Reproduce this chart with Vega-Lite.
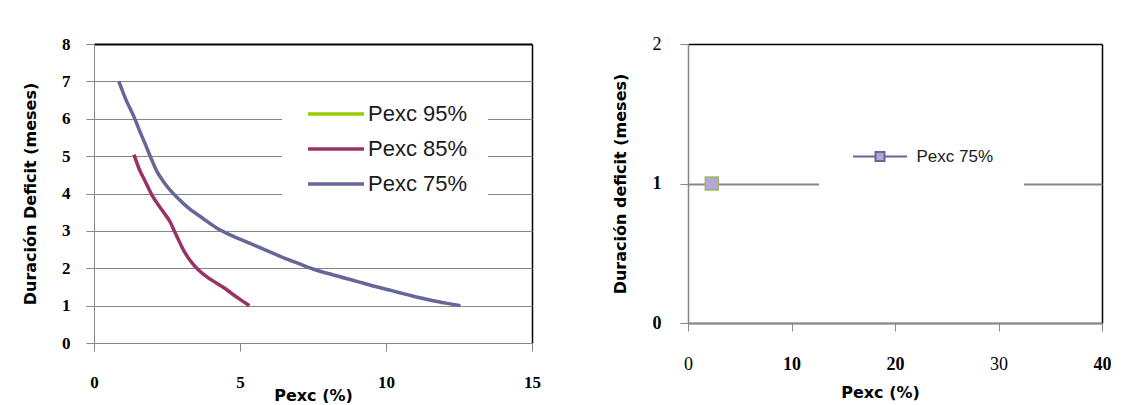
{
  "$schema": "https://vega.github.io/schema/vega-lite/v6.json",
  "background": "white",
  "padding": {"left": 22, "top": 35, "right": 0, "bottom": 0},
  "spacing": 71,
  "resolve": {"scale": {"color": "independent"}, "legend": {"color": "independent"}},
  "config": {
    "view": {"stroke": null},
    "axis": {"labelColor": "black", "titleColor": "black", "labelFlush": false, "labelOverlap": false, "labelAngle": 0}
  },
  "datasets": {
    "curves": [
      {"serie": "Pexc 75%", "pexc": 0.85, "duracion": 7.0},
      {"serie": "Pexc 75%", "pexc": 1.1, "duracion": 6.5},
      {"serie": "Pexc 75%", "pexc": 1.37, "duracion": 6.05},
      {"serie": "Pexc 75%", "pexc": 1.55, "duracion": 5.7},
      {"serie": "Pexc 75%", "pexc": 1.74, "duracion": 5.35},
      {"serie": "Pexc 75%", "pexc": 1.95, "duracion": 4.95},
      {"serie": "Pexc 75%", "pexc": 2.15, "duracion": 4.6},
      {"serie": "Pexc 75%", "pexc": 2.35, "duracion": 4.35},
      {"serie": "Pexc 75%", "pexc": 2.6, "duracion": 4.1},
      {"serie": "Pexc 75%", "pexc": 2.9, "duracion": 3.85},
      {"serie": "Pexc 75%", "pexc": 3.22, "duracion": 3.62},
      {"serie": "Pexc 75%", "pexc": 3.7, "duracion": 3.35},
      {"serie": "Pexc 75%", "pexc": 4.2, "duracion": 3.08},
      {"serie": "Pexc 75%", "pexc": 4.7, "duracion": 2.88},
      {"serie": "Pexc 75%", "pexc": 5.3, "duracion": 2.68},
      {"serie": "Pexc 75%", "pexc": 5.9, "duracion": 2.48},
      {"serie": "Pexc 75%", "pexc": 6.5, "duracion": 2.28},
      {"serie": "Pexc 75%", "pexc": 7.0, "duracion": 2.13},
      {"serie": "Pexc 75%", "pexc": 7.5, "duracion": 1.98},
      {"serie": "Pexc 75%", "pexc": 8.2, "duracion": 1.82},
      {"serie": "Pexc 75%", "pexc": 9.0, "duracion": 1.65},
      {"serie": "Pexc 75%", "pexc": 9.6, "duracion": 1.52},
      {"serie": "Pexc 75%", "pexc": 10.2, "duracion": 1.4},
      {"serie": "Pexc 75%", "pexc": 10.8, "duracion": 1.28},
      {"serie": "Pexc 75%", "pexc": 11.5, "duracion": 1.15},
      {"serie": "Pexc 75%", "pexc": 12.1, "duracion": 1.06},
      {"serie": "Pexc 75%", "pexc": 12.55, "duracion": 1.0},
      {"serie": "Pexc 85%", "pexc": 1.37, "duracion": 5.04},
      {"serie": "Pexc 85%", "pexc": 1.55, "duracion": 4.65},
      {"serie": "Pexc 85%", "pexc": 1.74, "duracion": 4.35},
      {"serie": "Pexc 85%", "pexc": 1.99, "duracion": 3.95},
      {"serie": "Pexc 85%", "pexc": 2.2, "duracion": 3.7},
      {"serie": "Pexc 85%", "pexc": 2.4, "duracion": 3.48},
      {"serie": "Pexc 85%", "pexc": 2.6, "duracion": 3.25},
      {"serie": "Pexc 85%", "pexc": 2.75, "duracion": 3.0},
      {"serie": "Pexc 85%", "pexc": 2.9, "duracion": 2.75},
      {"serie": "Pexc 85%", "pexc": 3.09, "duracion": 2.45},
      {"serie": "Pexc 85%", "pexc": 3.3, "duracion": 2.2},
      {"serie": "Pexc 85%", "pexc": 3.58, "duracion": 1.95},
      {"serie": "Pexc 85%", "pexc": 3.9, "duracion": 1.75},
      {"serie": "Pexc 85%", "pexc": 4.2, "duracion": 1.6},
      {"serie": "Pexc 85%", "pexc": 4.5, "duracion": 1.45},
      {"serie": "Pexc 85%", "pexc": 4.81, "duracion": 1.27},
      {"serie": "Pexc 85%", "pexc": 5.05, "duracion": 1.14},
      {"serie": "Pexc 85%", "pexc": 5.32, "duracion": 1.0}
    ],
    "derecha": [
      {"serie": "Pexc 75%", "pexc": 2.3, "duracion": 1}
    ]
  },
  "hconcat": [
    {
      "width": 438,
      "height": 299,
      "data": {"name": "curves"},
      "mark": {"type": "line", "strokeWidth": 3.5, "interpolate": "monotone", "clip": false},
      "encoding": {
        "x": {
          "field": "pexc", "type": "quantitative",
          "scale": {"domain": [0, 15], "nice": false},
          "axis": {
            "values": [0, 5, 10, 15], "title": "Pexc (%)",
            "grid": true, "gridColor": "black", "gridWidth": 1.5,
            "gridOpacity": {"condition": {"test": "datum.value === 15", "value": 1}, "value": 0},
            "domainColor": "#868686", "tickColor": "#868686", "tickSize": 8,
            "labelPadding": 23, "labelFont": "Liberation Serif", "labelFontSize": 17, "labelFontWeight": "bold",
            "titleFont": "DejaVu Sans", "titleFontSize": 16, "titleFontWeight": "bold",
            "titleY": 52, "titleBaseline": "middle"
          }
        },
        "y": {
          "field": "duracion", "type": "quantitative",
          "scale": {"domain": [0, 8], "nice": false},
          "axis": {
            "values": [0, 1, 2, 3, 4, 5, 6, 7, 8], "title": "Duración Deficit (meses)",
            "grid": true,
            "gridColor": {"condition": {"test": "datum.value === 8", "value": "black"}, "value": "#868686"},
            "gridWidth": {"condition": {"test": "datum.value === 8", "value": 2}, "value": 1},
            "domainColor": "#868686", "tickColor": "#868686", "tickSize": 8,
            "labelPadding": 16, "labelFont": "Liberation Serif", "labelFontSize": 17, "labelFontWeight": "bold",
            "titleFont": "DejaVu Sans", "titleFontSize": 16, "titleFontWeight": "bold", "titlePadding": 23
          }
        },
        "color": {
          "field": "serie", "type": "nominal",
          "scale": {"domain": ["Pexc 95%", "Pexc 85%", "Pexc 75%"], "range": ["#99cc00", "#993366", "#666699"]},
          "legend": {
            "orient": "none", "legendX": 188, "legendY": 39, "title": null,
            "fillColor": "white", "padding": 20,
            "symbolType": "M-4,0H4", "symbolSize": 196, "symbolStrokeWidth": 3.5,
            "symbolOffset": 23, "labelOffset": 21,
            "labelFont": "Liberation Sans", "labelFontSize": 22, "labelColor": "#1a1a1a",
            "rowPadding": 13
          }
        }
      }
    },
    {
      "width": 414,
      "height": 279,
      "data": {"name": "derecha"},
      "mark": {"type": "point", "shape": "square", "filled": true, "size": 170, "stroke": "#9bbb59", "strokeWidth": 1.5, "opacity": 1},
      "encoding": {
        "x": {
          "field": "pexc", "type": "quantitative",
          "scale": {"domain": [0, 40], "nice": false},
          "axis": {
            "values": [0, 10, 20, 30, 40], "title": "Pexc (%)",
            "grid": true, "gridColor": "black", "gridWidth": 1.5,
            "gridOpacity": {"condition": {"test": "datum.value === 40", "value": 1}, "value": 0},
            "domainColor": "#868686", "domainWidth": 1.5, "tickColor": "#868686", "tickSize": 8,
            "labelPadding": 24, "labelFont": "Liberation Serif", "labelFontSize": 18,
            "labelFontWeight": {"condition": {"test": "datum.value === 0 || datum.value === 30", "value": "normal"}, "value": "bold"},
            "titleFont": "DejaVu Sans", "titleFontSize": 16, "titleFontWeight": "bold",
            "titleX": 192, "titleY": 69, "titleBaseline": "middle"
          }
        },
        "y": {
          "field": "duracion", "type": "quantitative",
          "scale": {"domain": [0, 2], "nice": false},
          "axis": {
            "values": [0, 1, 2], "title": "Duración deficit (meses)", "format": ".0f",
            "grid": true,
            "gridColor": {"condition": {"test": "datum.value === 2", "value": "black"}, "value": "#868686"},
            "gridWidth": {"condition": {"test": "datum.value === 2", "value": 1.5}, "value": 2},
            "domainColor": "#868686", "domainWidth": 1.5, "tickColor": "#868686", "tickSize": 8,
            "labelPadding": 19, "labelFont": "Liberation Serif", "labelFontSize": 18,
            "labelFontWeight": {"condition": {"test": "datum.value === 2", "value": "normal"}, "value": "bold"},
            "titleFont": "DejaVu Sans", "titleFontSize": 16, "titleFontWeight": "bold", "titlePadding": 24
          }
        },
        "color": {
          "field": "serie", "type": "nominal",
          "scale": {"domain": ["Pexc 75%"], "range": ["#b4a7d6"]},
          "legend": {
            "orient": "none", "legendX": 131, "legendY": 74, "title": null,
            "fillColor": "white", "padding": 30,
            "symbolType": "M-6,0H-1M1,0H6M-1,-1H1V1H-1Z", "symbolSize": 81,
            "symbolStrokeColor": "#666699", "symbolStrokeWidth": 2,
            "symbolOffset": 22.5, "labelOffset": 28,
            "labelFont": "Liberation Sans", "labelFontSize": 17, "labelColor": "#1a1a1a",
            "encode": {"symbols": {"update": {"stroke": {"value": "#666699"}, "strokeWidth": {"value": 2}}}}
          }
        }
      }
    }
  ]
}
